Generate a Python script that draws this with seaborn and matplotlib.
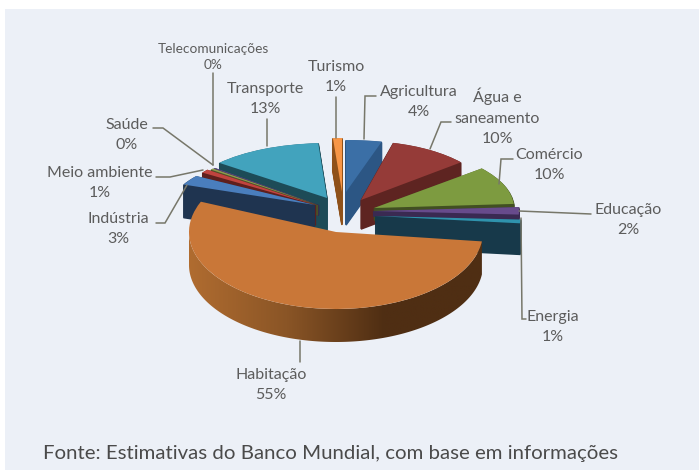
import numpy as np
import matplotlib
matplotlib.use("Agg")
import matplotlib.pyplot as plt
import seaborn as sns
from matplotlib.patches import Wedge, Rectangle, Polygon
from matplotlib.transforms import Affine2D
from matplotlib.colors import LinearSegmentedColormap

# --- data ---
sectors = ["Agricultura", "Água e\nsaneamento", "Comércio", "Educação", "Energia", "Habitação",
           "Indústria", "Meio ambiente", "Saúde", "Telecomunicações", "Transporte", "Turismo"]
shares = [4, 10, 10, 2, 1, 54.6, 3, 1, 0.4, 0.2, 13, 1]
source_note = "Fonte: Estimativas do Banco Mundial, com base em informações"

# --- styles ---
top_colors = ["#3b6fa6", "#953b38", "#7d9b40", "#674b8c", "#2f93ad", "#c97738",
              "#4a7ebd", "#c0443f", "#8c9a50", "#5f4a8a", "#42a3bd", "#f79646"]
side_colors = ["#2c5684", "#5e2421", "#414f22", "#3a2a52", "#17394a", "#6b3d18",
               "#1f3450", "#5f1f1d", "#4a5228", "#352a52", "#1d4b57", "#8f5119"]
apex_x = [346, 361, 374, 373, 375, 336, 315, 316, 318, 319, 327, 342]
apex_y = [192, 200, 208, 211, 216, 232, 205, 205, 205, 205, 198, 192]
radius_x = [144, 130, 140, 146, 146, 147, 143, 137, 135, 135, 140, 145]
radius_y = [52, 59, 62, 60, 60, 77, 52, 58, 58, 58, 55, 54]
depth = [33, 29, 12, 5, 31, 33, 33, 20, 10, 10, 33, 33]
draw_order = [10, 11, 0, 1, 2, 3, 4, 9, 8, 7, 6, 5]

label_xy = [(419, 102), (497, 117), (549, 165), (628, 220), (553, 327), (271, 385),
            (118, 229), (100, 183), (127, 135), (213, 57), (265, 99), (336, 77)]
leaders = [[(376, 96), (365, 96), (364, 139)],
           [(451, 122), (441, 122), (430, 149)],
           [(513, 159), (501, 159), (499, 184)],
           [(591, 214), (519, 211)],
           [(526, 319), (522, 319), (521, 218)],
           [(300, 362), (300, 341)],
           [(156, 223), (165, 223), (187, 185)],
           [(156, 177), (170, 177), (203, 170)],
           [(153, 128), (163, 128), (213, 165)],
           [(213, 73), (213, 165)],
           [(267, 119), (267, 146)],
           [(336, 97), (336, 138)]]

sns.set_theme(style="white")
plt.rcParams["font.family"] = ["Lato", "DejaVu Sans"]

W, H = 699, 470
fig = plt.figure(figsize=(W / 100, H / 100), dpi=100, facecolor="white")
ax = fig.add_axes([0, 0, 1, 1])

wedges, _ = ax.pie(shares, colors=top_colors, startangle=90, counterclock=False, radius=1, center=(0, 0))
ax.set_aspect("auto")
ax.set_xlim(0, W)
ax.set_ylim(0, H)
ax.axis("off")
ax.add_patch(Rectangle((5, 0), W - 5, H - 9, fc="#ecf0f7", ec="none", zorder=0))

def place(i, drop=0):
    return (Affine2D().scale(radius_x[i], radius_y[i])
            .translate(apex_x[i], H - apex_y[i] - drop) + ax.transData)

z = 1
for i in draw_order:
    w = wedges[i]
    if sectors[i] == "Habitação":
        t = np.radians(np.linspace(w.theta1, w.theta2, 300))
        px = apex_x[i] + radius_x[i] * np.cos(t)
        py = H - apex_y[i] + radius_y[i] * np.sin(t)
        front = py < H - apex_y[i] + 1
        px, py = px[front], py[front]
        pts = np.r_[np.c_[px, py], np.c_[px, py - depth[i]][::-1]]
        clip = Polygon(pts, closed=True, transform=ax.transData, fc="none", ec="none")
        ax.add_patch(clip)
        cmap = LinearSegmentedColormap.from_list("side", ["#b06c30", "#8a5526", "#4f2e13", "#4f2e13"])
        im = ax.imshow(np.linspace(0, 1, 256)[None, :], cmap=cmap, aspect="auto", zorder=z,
                       extent=(px.min(), px.max(), py.min() - depth[i], py.max()))
        im.set_clip_path(clip)
    else:
        for d in range(depth[i], 0, -1):
            ax.add_patch(Wedge((0, 0), 1, w.theta1, w.theta2, fc=side_colors[i], ec=side_colors[i], lw=1.2,
                               transform=place(i, d), zorder=z))
    w.set_transform(place(i))
    w.set_zorder(z + 0.5)
    w.set_linewidth(0)
    z += 1
ax.set_xlim(0, W)
ax.set_ylim(0, H)

for seg in leaders:
    xs, ys = zip(*seg)
    ax.plot(xs, [H - y for y in ys], color="#77776a", lw=1.1, zorder=30, solid_joinstyle="miter")

for name, v, (x, y) in zip(sectors, shares, label_xy):
    small = name == "Telecomunicações"
    ax.text(x, H - y, f"{name}\n{round(v)}%", ha="center", va="center", multialignment="center",
            fontsize=9.8 if small else 11.5, color="#5c5c5c", linespacing=1.45 if small else 1.58, zorder=31)

ax.text(43, H - 453, source_note, ha="left", va="center", fontsize=14.65, color="#4a4a4a", zorder=31)

fig.savefig("out.png", dpi=100, facecolor="white")
